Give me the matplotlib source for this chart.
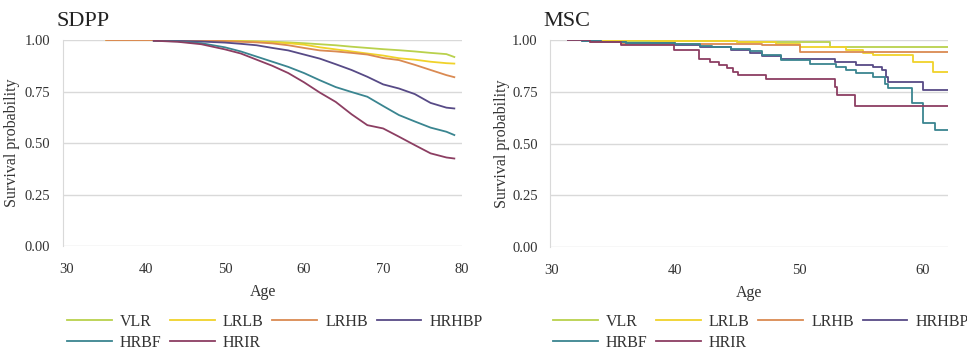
import numpy as np
import matplotlib.pyplot as plt

plt.rcParams['font.family'] = ['Liberation Serif', 'DejaVu Serif']

groups = ['VLR', 'LRLB', 'LRHB', 'HRHBP', 'HRBF', 'HRIR']
colors = ['#b9d14c', '#f0d22a', '#da8a52', '#574a86', '#3a8590', '#8c3e62']

# SDPP: survival on a common age grid
sdpp_age = [35, 41, 44, 47, 50, 52, 54, 56, 58, 60, 62, 64, 66, 68, 70, 72, 74, 76, 78, 79]
sdpp_vlr = [1, 1, 1, .999, .997, .996, .994, .992, .989, .985, .98, .975, .968, .962,
            .956, .951, .945, .938, .932, .918]
sdpp_lrlb = [1, 1, 1, .999, .996, .994, .992, .989, .985, .978, .965, .955, .945, .935,
             .925, .912, .905, .895, .888, .886]
sdpp_lrhb = [1, 1, 1, .998, .995, .992, .989, .984, .975, .962, .95, .945, .938, .93,
             .913, .903, .88, .855, .83, .82]
sdpp_hrhbp = [np.nan, .997, .996, .993, .988, .982, .975, .962, .95, .93, .91, .883, .855,
              .822, .785, .765, .738, .695, .672, .668]
sdpp_hrbf = [np.nan, .997, .994, .985, .965, .945, .92, .895, .87, .84, .805, .772, .748,
             .725, .68, .636, .605, .575, .555, .539]
sdpp_hrir = [np.nan, .997, .992, .98, .955, .935, .905, .875, .84, .795, .745, .70, .64,
             .587, .571, .531, .49, .45, .43, .425]

# MSC: Kaplan-Meier steps (age of step, survival after it)
msc_end = 62
msc_vlr_age = [31.3, 36, 45, 52.5]
msc_vlr = [1.0, .995, .99, .965]
msc_lrlb_age = [31.3, 38, 45, 48.1, 50.1, 53.8, 55.2, 56.0, 59.2, 60.8]
msc_lrlb = [1.0, .995, .99, .98, .965, .95, .94, .927, .895, .847]
msc_lrhb_age = [31.3, 33.1, 35.6, 47, 50.1]
msc_lrhb = [1.0, .993, .98, .975, .944]
msc_hrhbp_age = [31.3, 32.5, 34, 36, 40, 42, 44.5, 46, 47, 48.5, 52.9, 54.6, 56.0, 56.7,
                 57.0, 57.2, 60.0]
msc_hrhbp = [1.0, .996, .99, .985, .976, .965, .952, .94, .925, .91, .895, .879, .871,
             .855, .823, .798, .761]
msc_hrbf_age = [31.3, 32.5, 34, 36, 40, 42, 43, 44.5, 46, 47, 48.5, 50.9, 53.0, 53.8, 54.6,
                56.0, 56.9, 57.2, 59.1, 60.0, 61.0]
msc_hrbf = [1.0, .996, .99, .985, .979, .97, .965, .955, .945, .93, .906, .887, .871, .858,
            .842, .823, .787, .771, .694, .60, .568]
msc_hrir_age = [31.3, 33.1, 35.6, 39.9, 41.9, 42.8, 43.5, 44.2, 44.7, 45.1, 47.3, 52.9,
                53.1, 54.5]
msc_hrir = [1.0, .99, .976, .953, .911, .895, .879, .863, .847, .831, .81, .774, .734, .681]

yticks = [0, 0.25, 0.5, 0.75, 1.0]
ytick_labels = ['0.00', '0.25', '0.50', '0.75', '1.00']

fig = plt.figure(figsize=(9.67, 3.55), dpi=100)
ax1 = fig.add_axes([0.065, 0.307, 0.413, 0.580])
ax2 = fig.add_axes([0.569, 0.304, 0.411, 0.583])


def style(ax, xlim, xticks, title, title_x, label_x):
    ax.set_xlim(*xlim)
    ax.set_ylim(0, 1.0)
    ax.set_xticks(xticks)
    ax.set_yticks(yticks)
    ax.set_yticklabels(ytick_labels)
    ax.yaxis.grid(True, color='#d9d9d9', lw=1)
    ax.set_axisbelow(True)
    for s in ['top', 'right', 'bottom']:
        ax.spines[s].set_visible(False)
    ax.spines['left'].set_color('#d9d9d9')
    ax.tick_params(length=0, labelsize=10.5, colors='#333333')
    ax.tick_params(axis='x', pad=12)
    ax.tick_params(axis='y', pad=9)
    ax.set_xlabel('Age', fontsize=11.5, color='#333333', labelpad=6)
    ax.set_ylabel('Survival probability', fontsize=11.5, color='#333333')
    ax.yaxis.set_label_coords(label_x, 0.5)
    fig.text(title_x, 1 - 26 / 355, title, fontsize=16, color='#222222', va='baseline')


sdpp_series = [sdpp_vlr, sdpp_lrlb, sdpp_lrhb, sdpp_hrhbp, sdpp_hrbf, sdpp_hrir]
for g, c, s in zip(groups, colors, sdpp_series):
    ax1.plot(sdpp_age, s, color=c, lw=1.3, label=g)

msc_series = [(msc_vlr_age, msc_vlr), (msc_lrlb_age, msc_lrlb), (msc_lrhb_age, msc_lrhb),
              (msc_hrhbp_age, msc_hrhbp), (msc_hrbf_age, msc_hrbf), (msc_hrir_age, msc_hrir)]
for g, c, (a, s) in zip(groups, colors, msc_series):
    ax2.plot(a + [msc_end], s + [s[-1]], color=c, lw=1.3, drawstyle='steps-post', label=g)

style(ax1, (29.5, 80), [30, 40, 50, 60, 70, 80], 'SDPP', 57 / 967, -0.108)
style(ax2, (29.9, 62), [30, 40, 50, 60], 'MSC', 543 / 967, -0.10)

# legend laid out row by row (matplotlib fills columns first)
order = [0, 4, 1, 5, 2, 3]
for ax, x0 in [(ax1, 67 / 967), (ax2, 553 / 967)]:
    h, l = ax.get_legend_handles_labels()
    fig.legend([h[i] for i in order], [l[i] for i in order], ncol=4,
               loc='upper left', bbox_to_anchor=(x0, 1 - 314 / 355),
               frameon=False, fontsize=11.5, handlelength=2.8, handletextpad=0.5,
               columnspacing=0.55, labelspacing=0.3, borderpad=0, borderaxespad=0,
               labelcolor='#333333')

fig.savefig('out.png', dpi=100, facecolor='white')
